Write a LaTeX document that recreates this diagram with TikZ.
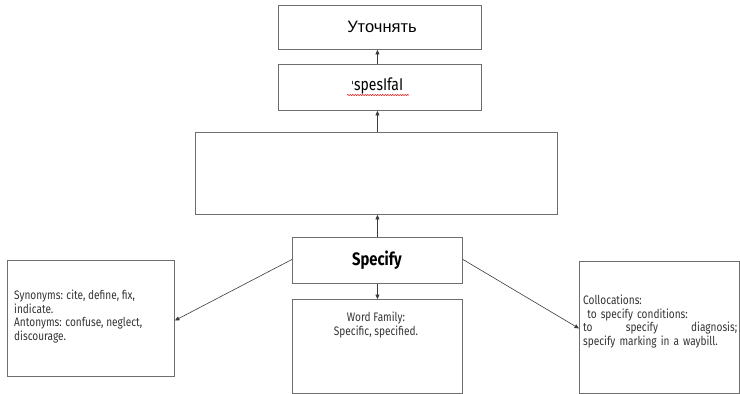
\documentclass[tikz,border=0pt]{standalone}
\usepackage{fontspec}
\setmainfont{Liberation Sans}
\newfontfamily\condfont[FakeStretch=0.82]{Fira Sans}
\newfontfamily\ipamark{DejaVu Sans}
\usetikzlibrary{arrows.meta,decorations.pathmorphing}
\definecolor{boxgray}{HTML}{6E6E6E}
\definecolor{linkgray}{HTML}{3A3A3A}
\definecolor{textgray}{HTML}{333333}
\begin{document}
\begin{tikzpicture}[x=1pt,y=-1pt,
  box/.style={draw=boxgray, line width=0.9pt, rectangle, inner sep=0pt, anchor=north west},
  link/.style={draw=linkgray, line width=0.6pt, -{Triangle[length=4.5pt,width=4pt]}},
  small/.style={font=\condfont\fontsize{12.3}{13.6}\selectfont, text=textgray, inner sep=0pt},
]
\useasboundingbox (0,0) rectangle (740,394);

% boxes
\node[box, minimum width=203pt, minimum height=44pt] (ru) at (278,5) {};
\node[box, minimum width=203pt, minimum height=46pt] (ipa) at (278,64) {};
\node[box, minimum width=362pt, minimum height=82pt] (big) at (195,132) {};
\node[box, minimum width=170pt, minimum height=46pt] (spec) at (292,237) {};
\node[box, minimum width=170pt, minimum height=94pt] (wf) at (292,299) {};
\node[box, minimum width=167pt, minimum height=116pt] (syn) at (7,260) {};
\node[box, minimum width=160pt, minimum height=132pt] (col) at (579,261) {};

% texts
\node[font=\fontsize{16.5}{18}\selectfont, text=black] (rutext) at (382,27) {Уточнять};
\node[font=\condfont\fontsize{17}{19}\selectfont, text=black] (ipatext) at (377,86) {{\ipamark\fontsize{12}{14}\selectfont ˈ}spesIfaI};
\draw[red!85!black, line width=0.5pt, decorate, decoration={snake, amplitude=0.6pt, segment length=2.5pt}]
  ([xshift=-30pt,yshift=-9pt]ipatext.center) -- ([xshift=32pt,yshift=-9pt]ipatext.center);
\node[font=\condfont\bfseries\fontsize{18}{20}\selectfont, text=black] (spectext) at (377,260) {Specify};
\node[small, align=center, anchor=north] (wftext) at (376,312) {Word Family:\\Specific, specified.};
\node[small, align=left, anchor=north west] (syntext) at (14,290) {Synonyms: cite, define, fix,\\indicate.\\Antonyms: confuse, neglect,\\discourage.};
\node[small, anchor=north west, text width=154pt, align=left] (coltext) at (583,295)
  {Collocations:\\\ to specify conditions:\\to\hfill specify\hfill diagnosis;\\specify marking in a waybill.};

% connectors
\draw[link] (spec.north) -- (spec.north |- big.south);
\draw[link] (spec.north |- big.north) -- (spec.north |- ipa.south);
\draw[link] (spec.north |- ipa.north) -- (spec.north |- ru.south);
\draw[link] (spec.south) -- (wf.north -| spec.south);
\draw[link] ([yshift=1pt]spec.west) -- ([yshift=-2pt]syn.east);
\draw[link] ([yshift=1pt]spec.east) -- ([yshift=-1pt]col.west);
\end{tikzpicture}
\end{document}
